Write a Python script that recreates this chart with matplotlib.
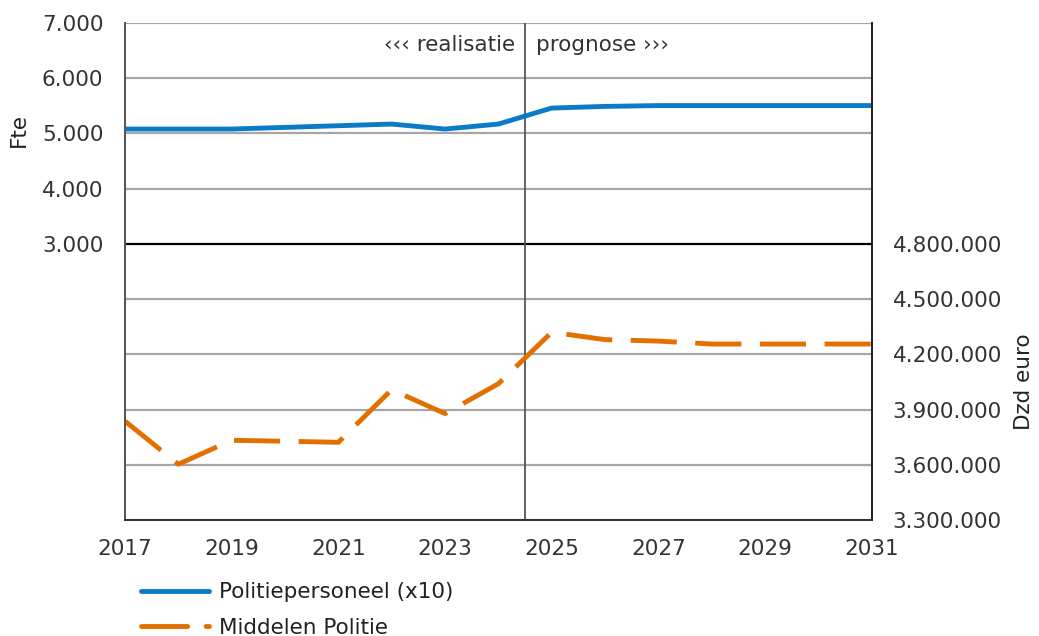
import numpy as np
import matplotlib.pyplot as plt
from matplotlib.lines import Line2D

# data
years = [2017, 2018, 2019, 2020, 2021, 2022, 2023, 2024, 2025, 2026, 2027, 2028, 2029, 2030, 2031]
personeel = [5080, 5080, 5080, 5110, 5140, 5170, 5080, 5170, 5460, 5490, 5505, 5505, 5505, 5505, 5505]
middelen = [3837000, 3603000, 3733000, 3728000, 3722000, 4008000, 3878000, 4040000,
            4320000, 4280000, 4272000, 4256000, 4256000, 4256000, 4256000]
year_ticks = [2017, 2019, 2021, 2023, 2025, 2027, 2029, 2031]
fte_ticks = [3000, 4000, 5000, 6000, 7000]
euro_ticks = [3300000, 3600000, 3900000, 4200000, 4500000, 4800000]
split_year = 2024.5

blue = '#0A7BC6'
orange = '#E17000'
fs = 15.5
dash = (9.5, 3.8)


def dotted(v):
    return f"{v:,.0f}".replace(',', '.')


plt.rcParams['ytick.major.pad'] = 15.5
plt.rcParams['xtick.major.pad'] = 14

fig = plt.figure(figsize=(10.39, 6.36), dpi=100)
ax = fig.add_axes([0.1203, 0.1824, 0.8390 - 0.1203, 0.9638 - 0.1824])
ax2 = ax.twinx()

# left axis: fte in the upper half, grid continues over the lower half
ax.set_xlim(2017, 2031)
ax.set_ylim(-2000, 7000)
grid_pos = list(range(-2000, 7001, 1000))
ax.set_yticks(grid_pos)
ax.set_yticklabels([dotted(v) if v in fte_ticks else '' for v in grid_pos], fontsize=fs, color='#333333')
ax.yaxis.grid(True, color='#A6A6A6', linewidth=1.6)
for v, gl in zip(grid_pos, ax.yaxis.get_gridlines()):
    if v == 3000:
        gl.set_color('black')
        gl.set_linewidth(1.6)
ax.set_axisbelow(True)
ax.set_xticks(year_ticks)
ax.set_xticklabels([str(y) for y in year_ticks], fontsize=fs, color='#333333')
ax.tick_params(axis='both', length=0)

# right axis: euro in the lower half
ax2.set_ylim(3300000, 6000000)
ax2.set_yticks(euro_ticks)
ax2.set_yticklabels([dotted(v) for v in euro_ticks], fontsize=fs, color='#333333')
ax2.tick_params(axis='y', length=0, pad=15)

for a in (ax, ax2):
    a.spines['top'].set_visible(False)
    a.spines['left'].set_color('#555555')
    a.spines['right'].set_color('#222222')
    a.spines['bottom'].set_color('#333333')
    for s in a.spines.values():
        s.set_linewidth(1.3)

ax.axvline(split_year, color='#555555', linewidth=1.3)
ax.annotate('\u2039\u2039\u2039 realisatie', xy=(split_year, 6600), xytext=(-7, 0),
            textcoords='offset points', ha='right', va='center', fontsize=fs, color='#333333')
ax.annotate('prognose \u203a\u203a\u203a', xy=(split_year, 6600), xytext=(8, 0),
            textcoords='offset points', ha='left', va='center', fontsize=fs, color='#333333')

ax.plot(years, personeel, color=blue, linewidth=3.5, solid_capstyle='butt')
ax2.plot(years, middelen, color=orange, linewidth=3.5, dashes=dash)

fig.text(0.018, 0.795, 'Fte', rotation=90, ha='center', va='center', fontsize=fs, color='#222222')
fig.text(0.986, 0.40, 'Dzd euro', rotation=90, ha='center', va='center', fontsize=fs, color='#222222')

handles = [Line2D([], [], color=blue, linewidth=3.5, solid_capstyle='round'),
           Line2D([], [], color=orange, linewidth=3.5, dashes=dash, dash_capstyle='round')]
fig.legend(handles, ['Politiepersoneel (x10)', 'Middelen Politie'], loc='upper left',
           bbox_to_anchor=(0.127, 0.098), frameon=False, fontsize=fs,
           handlelength=3.2, handletextpad=0.45, labelspacing=0.72, borderaxespad=0,
           labelcolor='#222222')

fig.savefig('out.png', dpi=100)
